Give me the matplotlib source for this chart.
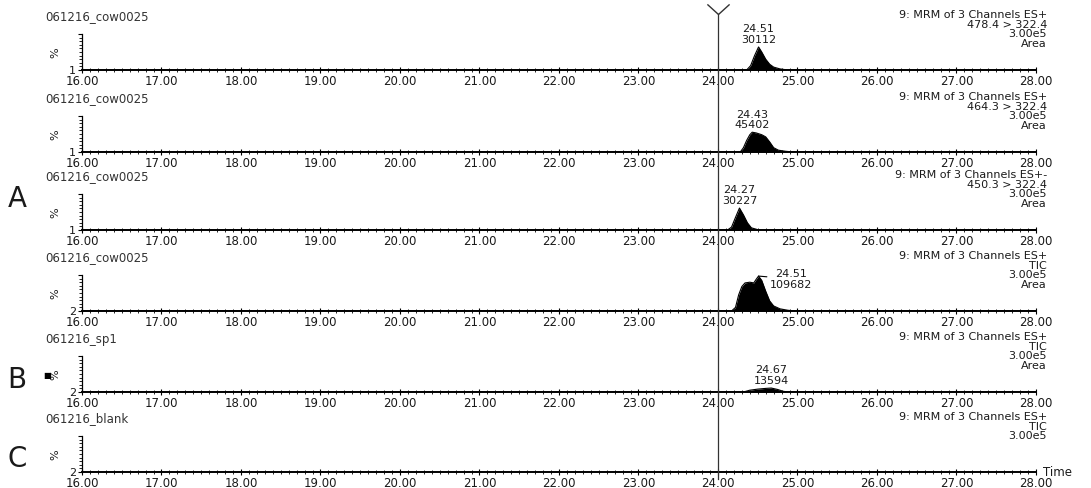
import matplotlib
matplotlib.use("Agg")
import matplotlib.pyplot as plt
from matplotlib.path import Path
import numpy as np

# ---------------- data ----------------
x_ticks = [16, 17, 18, 19, 20, 21, 22, 23, 24, 25, 26, 27, 28]
x_tick_labels = ["16.00", "17.00", "18.00", "19.00", "20.00", "21.00", "22.00",
                 "23.00", "24.00", "25.00", "26.00", "27.00", "28.00"]

sample_titles = ["061216_cow0025", "061216_cow0025", "061216_cow0025",
                 "061216_cow0025", "061216_sp1", "061216_blank"]
channel_info = [
    ["9: MRM of 3 Channels ES+", "478.4 > 322.4", "3.00e5", "Area"],
    ["9: MRM of 3 Channels ES+", "464.3 > 322.4", "3.00e5", "Area"],
    ["9: MRM of 3 Channels ES+-", "450.3 > 322.4", "3.00e5", "Area"],
    ["9: MRM of 3 Channels ES+", "TIC", "3.00e5", "Area"],
    ["9: MRM of 3 Channels ES+", "TIC", "3.00e5", "Area"],
    ["9: MRM of 3 Channels ES+", "TIC", "3.00e5"],
]
y_min_labels = ["1", "1", "1", "2", "2", "2"]

# chromatogram traces (time in min, intensity in % of full scale)
t_478 = [16.0, 24.36, 24.41, 24.46, 24.51, 24.55, 24.60, 24.65, 24.70, 24.78, 24.88, 28.0]
i_478 = [0, 0, 12, 40, 64, 50, 30, 16, 8, 3, 0, 0]

t_464 = [16.0, 24.28, 24.32, 24.36, 24.40, 24.43, 24.48, 24.55, 24.60, 24.65, 24.70, 24.76, 24.85, 24.95, 28.0]
i_464 = [0, 0, 12, 32, 48, 55, 53, 48, 42, 28, 12, 5, 2, 0, 0]

t_450 = [16.0, 24.12, 24.17, 24.22, 24.27, 24.32, 24.37, 24.42, 24.50, 24.56, 28.0]
i_450 = [0, 0, 8, 35, 61, 42, 20, 6, 1, 0, 0]

t_tic = [16.0, 24.17, 24.22, 24.26, 24.30, 24.34, 24.40, 24.45, 24.48, 24.51, 24.55, 24.60, 24.65, 24.70, 24.78, 24.88, 24.98, 28.0]
i_tic = [0, 0, 10, 45, 68, 78, 80, 78, 88, 97, 85, 55, 28, 14, 6, 2, 0, 0]

t_sp1 = [16.0, 24.32, 24.40, 24.50, 24.60, 24.67, 24.75, 24.82, 24.88, 28.0]
i_sp1 = [0, 0, 5, 8, 10, 11, 7, 2, 0, 0]

t_blank = [16.0, 28.0]
i_blank = [0, 0]

traces = [(t_478, i_478), (t_464, i_464), (t_450, i_450),
          (t_tic, i_tic), (t_sp1, i_sp1), (t_blank, i_blank)]

peak_rt = ["24.51", "24.43", "24.27", "24.51", "24.67", None]
peak_area = ["30112", "45402", "30227", "109682", "13594", None]

panel_letters = ["A", "B", "C"]
marker_time = 24.0

# ---------------- layout (pixels) ----------------
W, H, DPI = 1091, 489, 100
L, R = 82, 1036
baselines = [71, 153, 231, 312, 393, 473]
AX_H = 36
TXT = "#1a1a1a"

fig = plt.figure(figsize=(W / DPI, H / DPI), dpi=DPI)
fig.patch.set_facecolor("white")


def fy(py):
    return 1 - py / H


axes = []
for k in range(6):
    b = baselines[k]
    ax = fig.add_axes([L / W, 1 - b / H, (R - L) / W, AX_H / H])
    axes.append(ax)
    t, y = traces[k]
    ax.fill_between(t, y, 0, color="black", lw=0, zorder=2)
    ax.plot(t, y, color="black", lw=0.8, zorder=3)
    ax.set_xlim(16, 28)
    ax.set_ylim(0, 100)
    for s in ("top", "right"):
        ax.spines[s].set_visible(False)
    ax.spines["bottom"].set_linewidth(1.4)
    ax.spines["left"].set_linewidth(0.9)
    ax.patch.set_alpha(0)

    ax.set_xticks(x_ticks)
    ax.set_xticklabels(x_tick_labels)
    ax.set_xticks(np.arange(16, 28.001, 0.1), minor=True)
    ax.tick_params(axis="x", which="major", direction="inout", length=5, width=0.8,
                   pad=0.5, labelsize=8.5, labelcolor=TXT)
    ax.tick_params(axis="x", which="minor", direction="inout", length=3, width=0.6)

    ax.set_yticks([0, 100])
    ax.set_yticklabels([y_min_labels[k], ""])
    ax.set_yticks(np.arange(10, 100, 10), minor=True)
    ax.tick_params(axis="y", which="major", direction="out", length=3, width=0.8,
                   pad=1.5, labelsize=8, labelcolor=TXT)
    ax.tick_params(axis="y", which="minor", direction="out", length=2.5, width=0.6)
    for lab in ax.get_yticklabels():
        lab.set_verticalalignment("center")

    ax.set_ylabel("%", fontsize=8, color=TXT)
    ax.yaxis.set_label_coords(-22 / (R - L), 0.5)

    # sample title
    fig.text(45 / W, fy(b - 54), sample_titles[k], ha="left", va="center",
             fontsize=8.5, color="#333333")
    # channel info (right)
    for j, line in enumerate(channel_info[k]):
        fig.text(1047 / W, fy(b - 56 + 9.6 * j), line, ha="right", va="center",
                 fontsize=8, color=TXT)

    # peak annotation
    if peak_rt[k] is not None:
        yy = np.array(y)
        apex_idx = int(np.argmax(yy))
        apex_t = t[apex_idx]
        apex_h = yy[apex_idx]
        label = peak_rt[k] + "\n" + peak_area[k]
        if k == 3:
            ax.annotate(label, xy=(apex_t, apex_h), xytext=(8, -2),
                        textcoords="offset points", ha="left", va="center",
                        fontsize=8, color=TXT, linespacing=1.1, multialignment="center",
                        arrowprops=dict(arrowstyle="-", lw=0.8, color="black",
                                        shrinkA=0, shrinkB=0),
                        annotation_clip=False)
        else:
            ax.annotate(label, xy=(apex_t, apex_h), xytext=(0, 2),
                        textcoords="offset points", ha="center", va="bottom",
                        fontsize=8, color=TXT, linespacing=1.1,
                        annotation_clip=False)

axes[-1].text(1 + 7 / (R - L), 0.02, "Time", transform=axes[-1].transAxes,
              ha="left", va="center", fontsize=8.5, color=TXT)

# group letters
fig.text(17 / W, fy(199), panel_letters[0], ha="center", va="center", fontsize=20, color=TXT)
fig.text(17 / W, fy(380), panel_letters[1], ha="center", va="center", fontsize=20, color=TXT)
fig.text(17 / W, fy(459), panel_letters[2], ha="center", va="center", fontsize=20, color=TXT)
fig.text(47 / W, fy(376), "\u25a0", ha="center", va="center", fontsize=6, color="black")

# retention time marker line across all panels
ov = fig.add_axes([L / W, 0, (R - L) / W, 1])
ov.set_xlim(16, 28)
ov.set_ylim(H, 0)
ov.axis("off")
ov.plot([marker_time, marker_time], [15, 480], color="#333333", lw=0.9, zorder=5)
v_marker = Path([(-1.1, 1.0), (0.0, 0.0), (1.1, 1.0)],
                [Path.MOVETO, Path.LINETO, Path.LINETO])
ov.plot([marker_time], [15], marker=v_marker, ms=16, mew=1.0, mfc="none",
        mec="#333333", zorder=5)

fig.savefig("out.png", dpi=DPI)
